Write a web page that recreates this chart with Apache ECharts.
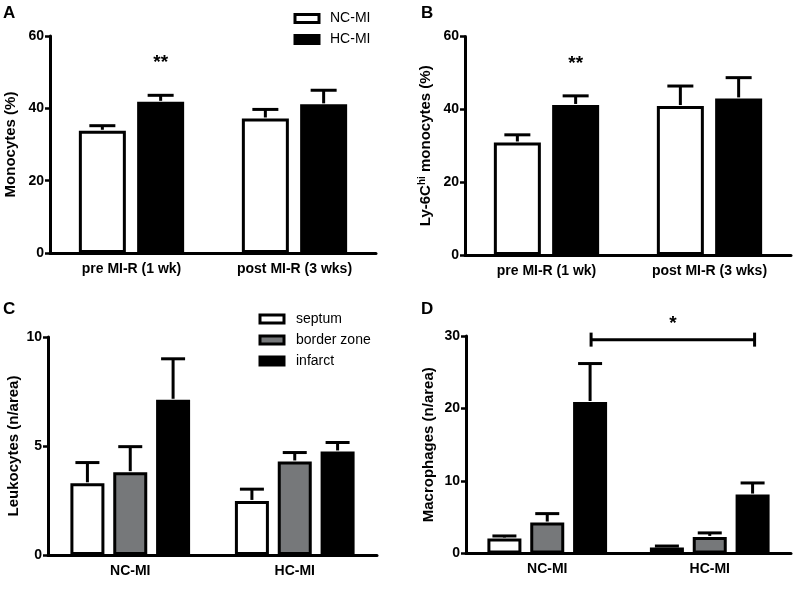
<!DOCTYPE html>
<html>
<head>
<meta charset="utf-8">
<script src="https://cdn.jsdelivr.net/npm/echarts@6/dist/echarts.min.js"></script>
<style>
html,body{margin:0;padding:0;background:#fff;}
#chart{width:797px;height:590px;}
</style>
</head>
<body>
<div id="chart"></div>
<script>
// ---- data ----
const timeCategories = ['pre MI-R (1 wk)', 'post MI-R (3 wks)'];
const groupCategories = ['NC-MI', 'HC-MI'];

// Panel A: Monocytes (%)
const monoNC = [33.8, 37.2];
const monoNCerr = [1.4, 2.5];
const monoHC = [41.8, 41.1];
const monoHCerr = [1.8, 3.9];

// Panel B: Ly-6Chi monocytes (%)
const ly6NC = [30.9, 40.9];
const ly6NCerr = [2.1, 5.5];
const ly6HC = [41.2, 43.0];
const ly6HCerr = [2.5, 5.7];

// Panel C: Leukocytes (n/area)
const leukSeptum = [3.29, 2.48];
const leukSeptumErr = [0.95, 0.54];
const leukBorder = [3.80, 4.29];
const leukBorderErr = [1.17, 0.41];
const leukInfarct = [7.12, 4.75];
const leukInfarctErr = [1.88, 0.41];

// Panel D: Macrophages (n/area)
const macSeptum = [2.07, 0.83];
const macSeptumErr = [0.35, 0.2];
const macBorder = [4.27, 2.29];
const macBorderErr = [1.23, 0.55];
const macInfarct = [20.9, 8.13];
const macInfarctErr = [5.3, 1.6];

// significance annotations
const sigA = { text: '**', category: 0, value: 52.6 };
const sigB = { text: '**', category: 0, value: 52.6 };
const sigD = { text: '*', from: 0, to: 1, value: 29.5 };

// ---- styling ----
const FONT = "'Liberation Sans', Arial, Helvetica, sans-serif";
const GRAY = '#76787a';
const AB_W = 47, AB_GAP = 0.24;
const CD_W = 34, CD_GAP = 0.26;

function barX(centerX, i, n, w, gapPct) {
  const gap = w * gapPct;
  const total = n * w + (n - 1) * gap;
  return centerX - total / 2 + i * (w + gap) + w / 2;
}

function barSeries(name, gi, data, color, w, gapPct) {
  return {
    name: name, type: 'bar', xAxisIndex: gi, yAxisIndex: gi,
    data: data, barWidth: w, barGap: (gapPct * 100) + '%',
    itemStyle: { color: color, borderColor: '#000', borderWidth: 3 },
    emphasis: { disabled: true }, z: 2
  };
}

function errSeries(gi, values, errs, i, n, w, gapPct, capW) {
  return {
    type: 'custom', xAxisIndex: gi, yAxisIndex: gi, z: 5, silent: true, clip: false,
    data: values.map((v, k) => [k, v, v + errs[k]]),
    renderItem: function (params, api) {
      const base = api.coord([api.value(0), api.value(1)]);
      const top = api.coord([api.value(0), api.value(2)]);
      const x = barX(base[0], i, n, w, gapPct);
      return {
        type: 'group', children: [
          { type: 'line', shape: { x1: x, y1: base[1] - 1, x2: x, y2: top[1] }, style: { stroke: '#000', lineWidth: 3 } },
          { type: 'line', shape: { x1: x - capW / 2, y1: top[1], x2: x + capW / 2, y2: top[1] }, style: { stroke: '#000', lineWidth: 3 } }
        ]
      };
    }
  };
}

function sigSeries(gi, sig, i, n, w, gapPct) {
  return {
    type: 'custom', xAxisIndex: gi, yAxisIndex: gi, z: 5, silent: true, clip: false,
    data: [[sig.category, sig.value]],
    renderItem: function (params, api) {
      const p = api.coord([api.value(0), api.value(1)]);
      const x = barX(p[0], i, n, w, gapPct);
      return {
        type: 'text', x: x, y: p[1],
        style: { text: sig.text, fontSize: 19, fontWeight: 'bold', fontFamily: FONT, fill: '#000', align: 'center', verticalAlign: 'middle' }
      };
    }
  };
}

function bracketSeries(gi, sig, i, n, w, gapPct) {
  return {
    type: 'custom', xAxisIndex: gi, yAxisIndex: gi, z: 5, silent: true, clip: false,
    data: [[sig.from, sig.value, sig.to]],
    renderItem: function (params, api) {
      const p1 = api.coord([api.value(0), api.value(1)]);
      const p2 = api.coord([api.value(2), api.value(1)]);
      const x1 = barX(p1[0], i, n, w, gapPct) + 1;
      const x2 = barX(p2[0], i, n, w, gapPct) + 2;
      const y = p1[1];
      const ls = { stroke: '#000', lineWidth: 3 };
      return {
        type: 'group', children: [
          { type: 'line', shape: { x1: x1, y1: y, x2: x2, y2: y }, style: ls },
          { type: 'line', shape: { x1: x1, y1: y - 7, x2: x1, y2: y + 7 }, style: ls },
          { type: 'line', shape: { x1: x2, y1: y - 7, x2: x2, y2: y + 7 }, style: ls },
          { type: 'text', x: (x1 + x2) / 2, y: y - 16, style: { text: sig.text, fontSize: 19, fontWeight: 'bold', fontFamily: FONT, fill: '#000', align: 'center', verticalAlign: 'middle' } }
        ]
      };
    }
  };
}

function xAxisCfg(gi, cats) {
  return {
    type: 'category', gridIndex: gi, data: cats,
    axisLine: { lineStyle: { color: '#000', width: 3 } },
    axisTick: { alignWithLabel: true, length: 5, lineStyle: { color: '#000', width: 2.5 } },
    axisLabel: { color: '#000', fontSize: 14, fontWeight: 'bold', fontFamily: FONT, margin: 9, interval: 0 },
    splitLine: { show: false }
  };
}

function yAxisCfg(gi, max, interval, name, gap, rich) {
  const cfg = {
    type: 'value', gridIndex: gi, min: 0, max: max, interval: interval,
    name: name, nameLocation: 'middle', nameGap: gap, nameRotate: 90,
    nameTextStyle: { color: '#000', fontSize: 15, fontWeight: 'bold', fontFamily: FONT },
    axisLine: { show: true, lineStyle: { color: '#000', width: 3 } },
    axisTick: { show: true, length: 5, lineStyle: { color: '#000', width: 2.5 } },
    axisLabel: { color: '#000', fontSize: 14, fontWeight: 'bold', fontFamily: FONT, margin: 6 },
    splitLine: { show: false }
  };
  if (rich) cfg.nameTextStyle.rich = rich;
  return cfg;
}

const legendIcon = (color) => ({ color: color, borderColor: '#000', borderWidth: 3 });

const option = {
  animation: false,
  backgroundColor: '#fff',
  grid: [
    { left: 50, top: 36, width: 326, height: 217 },
    { left: 465, top: 36.5, width: 326, height: 218.5 },
    { left: 48, top: 337, width: 329, height: 218 },
    { left: 466, top: 336, width: 325, height: 217.5 }
  ],
  xAxis: [
    xAxisCfg(0, timeCategories),
    xAxisCfg(1, timeCategories),
    xAxisCfg(2, groupCategories),
    xAxisCfg(3, groupCategories)
  ],
  yAxis: [
    yAxisCfg(0, 60, 20, 'Monocytes (%)', 32),
    yAxisCfg(1, 60, 20, 'Ly-6C{sup|hi} monocytes (%)', 30, {
      sup: { fontSize: 10, fontWeight: 'bold', fontFamily: FONT, color: '#000', verticalAlign: 'top', lineHeight: 18 }
    }),
    yAxisCfg(2, 10, 5, 'Leukocytes (n/area)', 27),
    yAxisCfg(3, 30, 10, 'Macrophages (n/area)', 30)
  ],
  legend: [
    {
      left: 288.5, top: 6.5, orient: 'vertical', itemWidth: 24, itemHeight: 8, itemGap: 7,
      selectedMode: false, icon: 'rect',
      textStyle: { color: '#000', fontSize: 14, fontFamily: FONT, padding: [0, 0, 0, 6] },
      data: [
        { name: 'NC-MI', itemStyle: legendIcon('#fff') },
        { name: 'HC-MI', itemStyle: legendIcon('#000') }
      ]
    },
    {
      left: 253.5, top: 307, orient: 'vertical', itemWidth: 24, itemHeight: 8, itemGap: 7,
      selectedMode: false, icon: 'rect',
      textStyle: { color: '#000', fontSize: 14, fontFamily: FONT, padding: [0, 0, 0, 7] },
      data: [
        { name: 'septum', itemStyle: legendIcon('#fff') },
        { name: 'border zone', itemStyle: legendIcon(GRAY) },
        { name: 'infarct', itemStyle: legendIcon('#000') }
      ]
    }
  ],
  graphic: [
    { type: 'text', left: 3, top: 5, style: { text: 'A', fontSize: 17, fontWeight: 'bold', fontFamily: FONT, fill: '#000' } },
    { type: 'text', left: 421, top: 5, style: { text: 'B', fontSize: 17, fontWeight: 'bold', fontFamily: FONT, fill: '#000' } },
    { type: 'text', left: 3, top: 301, style: { text: 'C', fontSize: 17, fontWeight: 'bold', fontFamily: FONT, fill: '#000' } },
    { type: 'text', left: 421, top: 301, style: { text: 'D', fontSize: 17, fontWeight: 'bold', fontFamily: FONT, fill: '#000' } }
  ],
  series: [
    // A
    barSeries('NC-MI', 0, monoNC, '#fff', AB_W, AB_GAP),
    barSeries('HC-MI', 0, monoHC, '#000', AB_W, AB_GAP),
    errSeries(0, monoNC, monoNCerr, 0, 2, AB_W, AB_GAP, 26),
    errSeries(0, monoHC, monoHCerr, 1, 2, AB_W, AB_GAP, 26),
    sigSeries(0, sigA, 1, 2, AB_W, AB_GAP),
    // B
    barSeries('NC-MI', 1, ly6NC, '#fff', AB_W, AB_GAP),
    barSeries('HC-MI', 1, ly6HC, '#000', AB_W, AB_GAP),
    errSeries(1, ly6NC, ly6NCerr, 0, 2, AB_W, AB_GAP, 26),
    errSeries(1, ly6HC, ly6HCerr, 1, 2, AB_W, AB_GAP, 26),
    sigSeries(1, sigB, 1, 2, AB_W, AB_GAP),
    // C
    barSeries('septum', 2, leukSeptum, '#fff', CD_W, CD_GAP),
    barSeries('border zone', 2, leukBorder, GRAY, CD_W, CD_GAP),
    barSeries('infarct', 2, leukInfarct, '#000', CD_W, CD_GAP),
    errSeries(2, leukSeptum, leukSeptumErr, 0, 3, CD_W, CD_GAP, 24),
    errSeries(2, leukBorder, leukBorderErr, 1, 3, CD_W, CD_GAP, 24),
    errSeries(2, leukInfarct, leukInfarctErr, 2, 3, CD_W, CD_GAP, 24),
    // D
    barSeries('septum', 3, macSeptum, '#fff', CD_W, CD_GAP),
    barSeries('border zone', 3, macBorder, GRAY, CD_W, CD_GAP),
    barSeries('infarct', 3, macInfarct, '#000', CD_W, CD_GAP),
    errSeries(3, macSeptum, macSeptumErr, 0, 3, CD_W, CD_GAP, 24),
    errSeries(3, macBorder, macBorderErr, 1, 3, CD_W, CD_GAP, 24),
    errSeries(3, macInfarct, macInfarctErr, 2, 3, CD_W, CD_GAP, 24),
    bracketSeries(3, sigD, 2, 3, CD_W, CD_GAP)
  ]
};

const chart = echarts.init(document.getElementById('chart'), null, { renderer: 'canvas' });
chart.setOption(option);
</script>
</body>
</html>
